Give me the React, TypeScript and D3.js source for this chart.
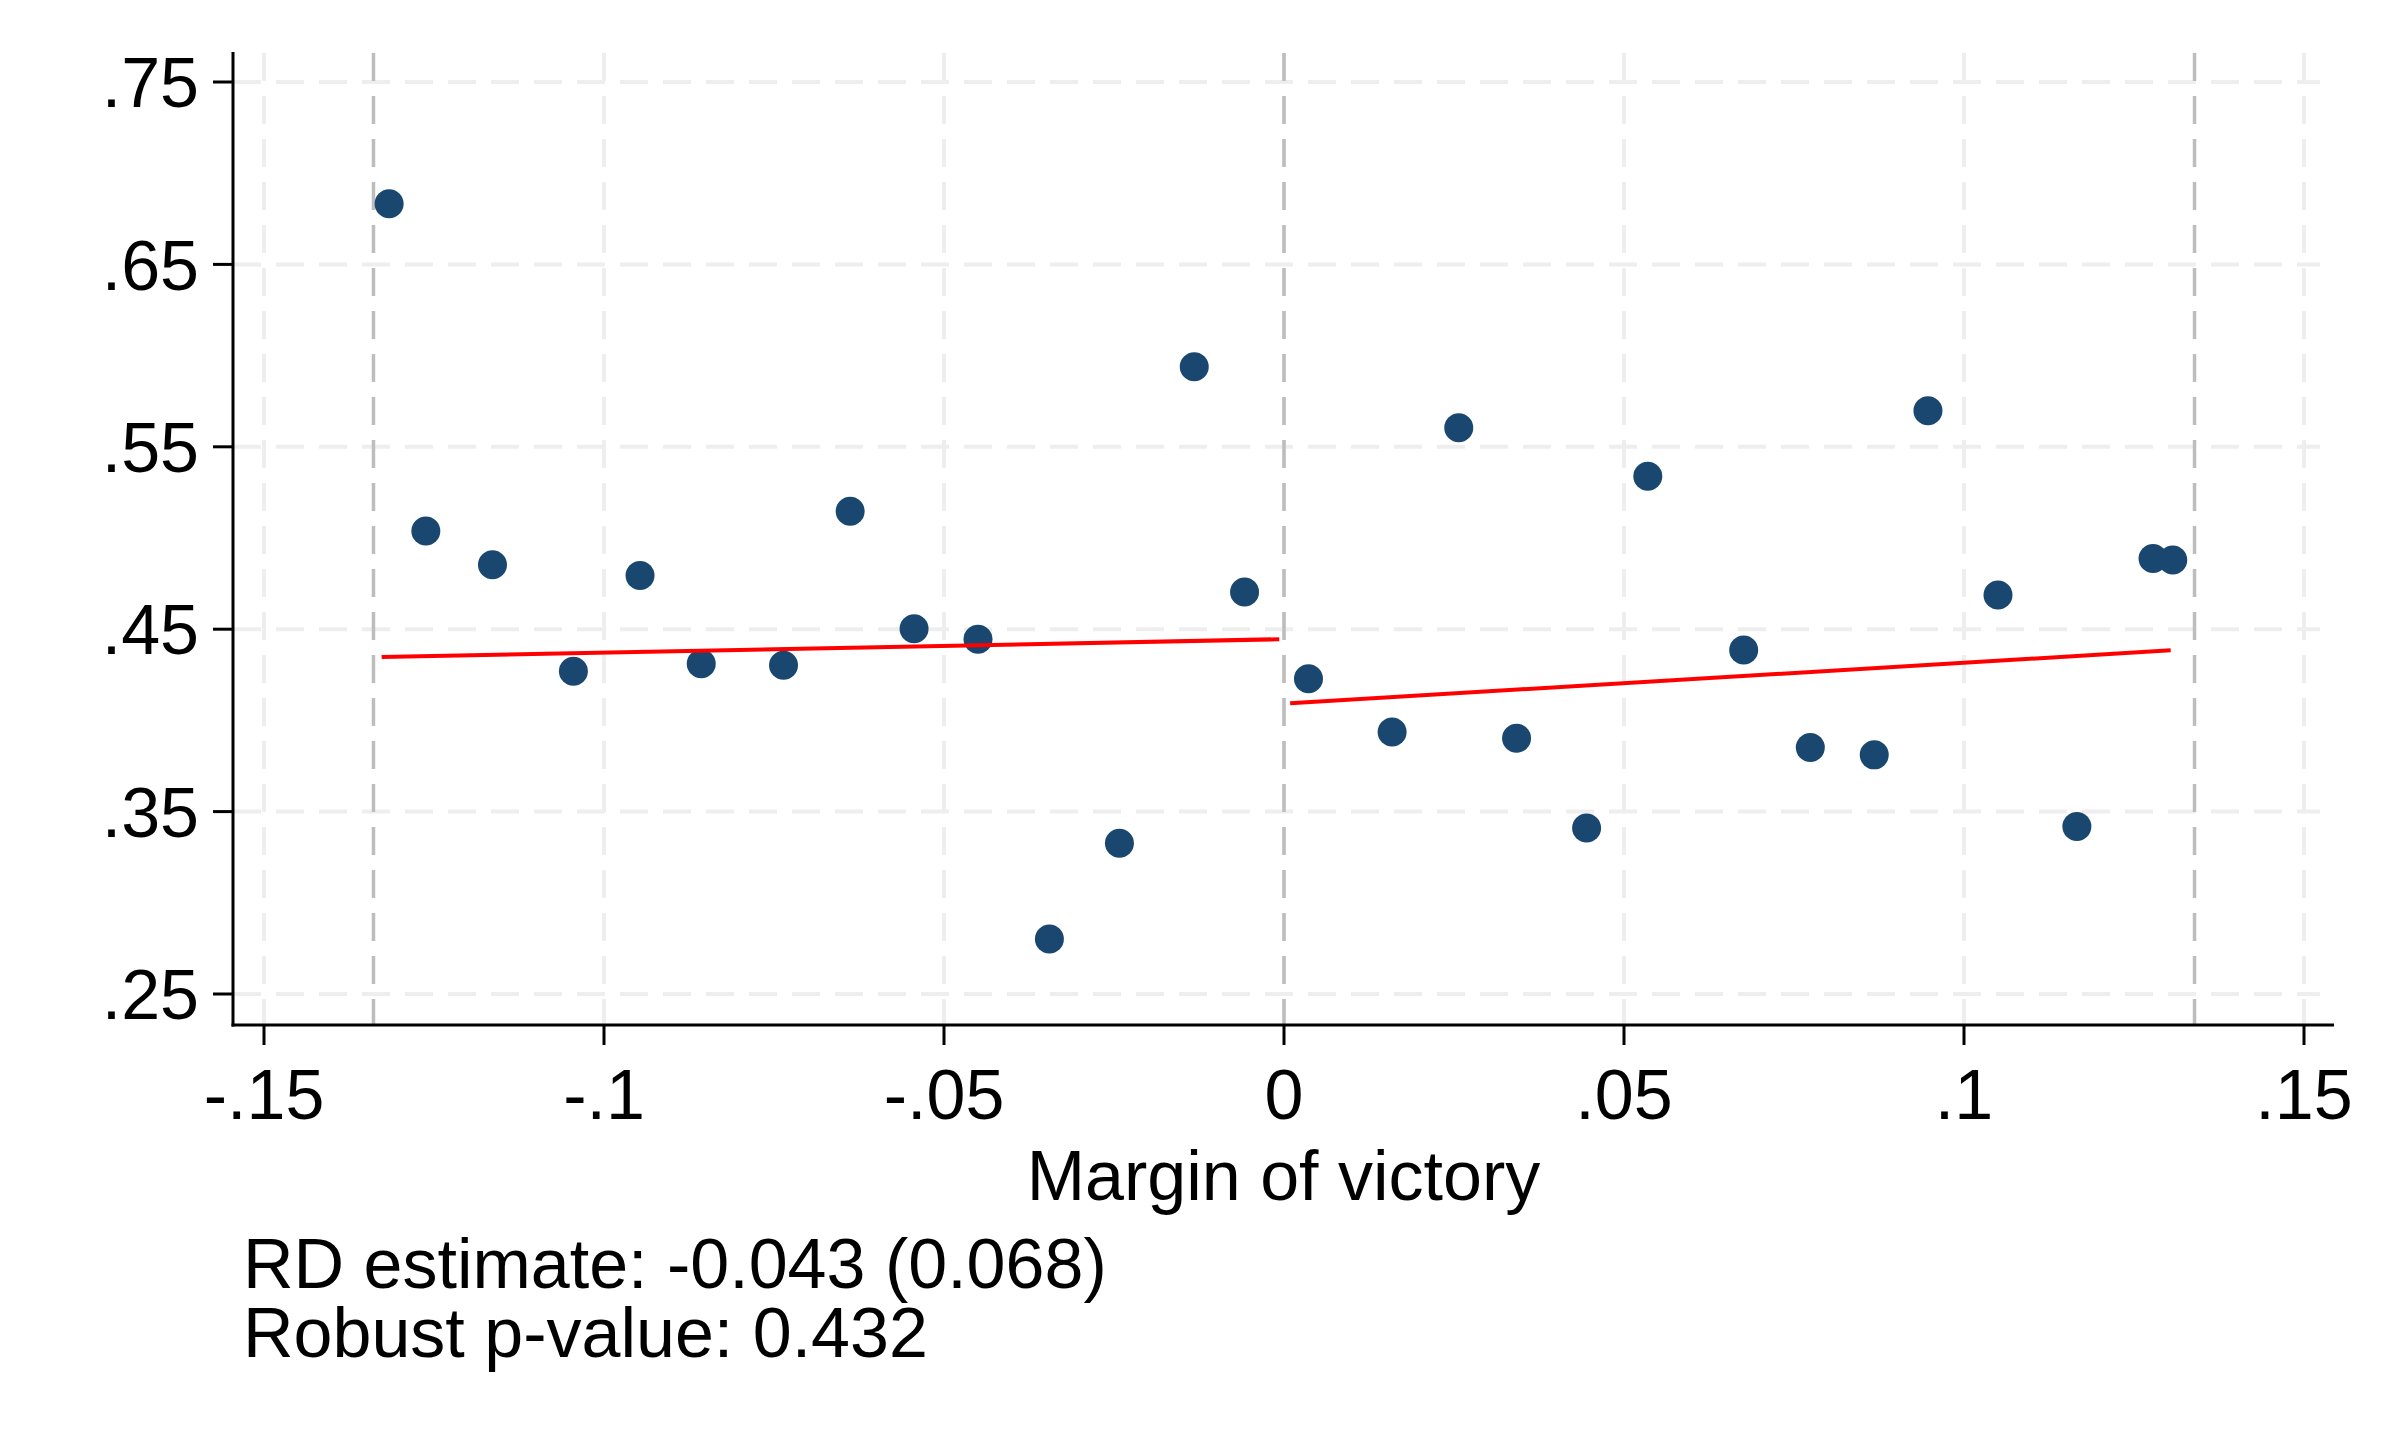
import React, { useEffect } from 'react'
import * as d3 from 'd3'

// binned scatter, left and right of the cutoff
const leftX = [-0.1316, -0.1262, -0.1164, -0.1045, -0.0947, -0.0857, -0.0736, -0.0638, -0.0544, -0.045, -0.0345, -0.0242, -0.0132, -0.0058]
const leftY = [0.6832, 0.5038, 0.4854, 0.427, 0.4795, 0.4311, 0.4303, 0.5146, 0.4503, 0.4445, 0.2801, 0.3326, 0.5939, 0.4704]
const rightX = [0.0036, 0.0159, 0.0257, 0.0342, 0.0445, 0.0535, 0.0676, 0.0774, 0.0868, 0.0947, 0.105, 0.1166, 0.1278, 0.1307]
const rightY = [0.4228, 0.3936, 0.5605, 0.3902, 0.341, 0.5338, 0.4386, 0.3852, 0.3811, 0.5697, 0.4687, 0.3418, 0.4887, 0.4879]

// local linear fits
const fitLeftX = [-0.1327, -0.0007]
const fitLeftY = [0.4348, 0.4445]
const fitRightX = [0.0009, 0.1304]
const fitRightY = [0.4094, 0.4384]

const bandwidth = 0.1339
const xTicks = [-0.15, -0.1, -0.05, 0, 0.05, 0.1, 0.15]
const yTicks = [0.25, 0.35, 0.45, 0.55, 0.65, 0.75]
const xTitle = 'Margin of victory'
const notes = ['RD estimate: -0.043 (0.068)', 'Robust p-value: 0.432']

const W = 2386
const H = 1432
const font = '"Liberation Sans", Arial, Helvetica, sans-serif'

// stata style: no leading zero, ascii minus
const fmt = (v: number) => {
  if (v === 0) return '0'
  const s = String(+Math.abs(v).toFixed(3)).replace(/^0\./, '.')
  return (v < 0 ? '-' : '') + s
}

export default function App() {
  useEffect(() => {
    document.body.style.margin = '0'
  }, [])

  const x = d3.scaleLinear().domain([-0.15, 0.15]).range([264, 2304])
  const y = d3.scaleLinear().domain([0.25, 0.75]).range([994, 82])

  const axisLeft = 233
  const axisBottom = 1025
  const plotTop = 53
  const plotRight = 2334

  const line = d3
    .line<[number, number]>()
    .x((d) => x(d[0]))
    .y((d) => y(d[1]))

  const fitL = fitLeftX.map((v, i) => [v, fitLeftY[i]] as [number, number])
  const fitR = fitRightX.map((v, i) => [v, fitRightY[i]] as [number, number])
  const pts = [
    ...leftX.map((v, i) => [v, leftY[i]]),
    ...rightX.map((v, i) => [v, rightY[i]]),
  ]

  return (
    <svg width={W} height={H} style={{ display: 'block', background: '#fff' }} fontFamily={font}>
      {/* grid */}
      {yTicks.map((t) => (
        <line key={'gy' + t} x1={axisLeft} x2={2320} y1={y(t)} y2={y(t)}
          stroke="#eeeeee" strokeWidth={4} strokeDasharray="28 15" />
      ))}
      {xTicks.map((t) => (
        <line key={'gx' + t} x1={x(t)} x2={x(t)} y1={plotTop} y2={axisBottom}
          stroke="#eeeeee" strokeWidth={4} strokeDasharray="28 15" />
      ))}
      {[-bandwidth, 0, bandwidth].map((t) => (
        <line key={'c' + t} x1={x(t)} x2={x(t)} y1={plotTop} y2={axisBottom}
          stroke="#bdbdbd" strokeWidth={3.5} strokeDasharray="28 15" />
      ))}

      {/* points */}
      {pts.map((p, i) => (
        <circle key={i} cx={x(p[0])} cy={y(p[1])} r={14.5} fill="#1a476f" />
      ))}

      {/* fits */}
      <path d={line(fitL) || ''} stroke="#ff0000" strokeWidth={4} fill="none" />
      <path d={line(fitR) || ''} stroke="#ff0000" strokeWidth={4} fill="none" />

      {/* axes */}
      <line x1={axisLeft} x2={axisLeft} y1={plotTop - 1} y2={axisBottom + 1.5} stroke="#000" strokeWidth={3} />
      <line x1={axisLeft - 1.5} x2={plotRight} y1={axisBottom} y2={axisBottom} stroke="#000" strokeWidth={3} />
      {yTicks.map((t) => (
        <g key={'yt' + t}>
          <line x1={axisLeft - 20} x2={axisLeft} y1={y(t)} y2={y(t)} stroke="#000" strokeWidth={3} />
          <text x={199} y={y(t)} dy="0.36em" textAnchor="end" fontSize={70}>{fmt(t)}</text>
        </g>
      ))}
      {xTicks.map((t) => (
        <g key={'xt' + t}>
          <line x1={x(t)} x2={x(t)} y1={axisBottom} y2={axisBottom + 20} stroke="#000" strokeWidth={3} />
          <text x={x(t)} y={1119} textAnchor="middle" fontSize={70}>{fmt(t)}</text>
        </g>
      ))}

      <text x={(axisLeft + plotRight) / 2} y={1200} textAnchor="middle" fontSize={70}>{xTitle}</text>
      {notes.map((n, i) => (
        <text key={n} x={243} y={1288 + i * 69} fontSize={70}>{n}</text>
      ))}
    </svg>
  )
}
